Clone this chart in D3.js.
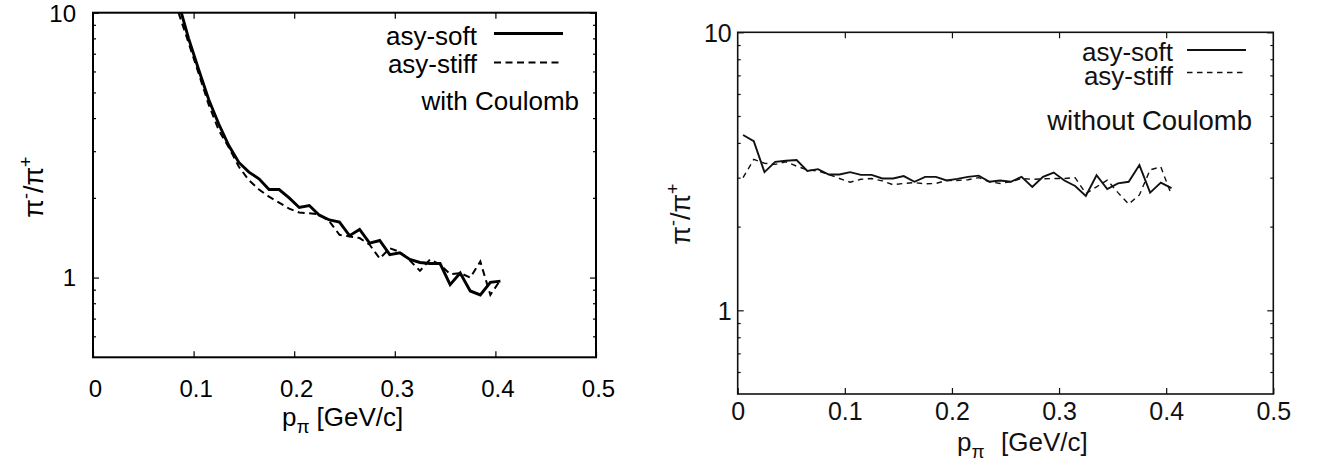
<!DOCTYPE html>
<html>
<head>
<meta charset="utf-8">
<script src="https://cdn.jsdelivr.net/npm/d3@7"></script>
<style>
  body { margin: 0; background: #fff; }
  svg { display: block; font-family: "Liberation Sans", Arial, sans-serif; }
</style>
</head>
<body>
<svg id="chart" width="1324" height="468"></svg>
<script>
// momentum grid (GeV/c) and ratios
var momentumCoul = [0.085, 0.095, 0.105, 0.115, 0.125, 0.135, 0.145, 0.155, 0.165, 0.175,
    0.185, 0.195, 0.205, 0.215, 0.225, 0.235, 0.245, 0.255, 0.265, 0.275, 0.285,
    0.295, 0.305, 0.315, 0.325, 0.335, 0.345, 0.355, 0.365, 0.375, 0.385, 0.395, 0.405];
var softCoul = [10.9, 8.0, 6.1, 4.7, 3.8, 3.15, 2.72, 2.5, 2.36, 2.15,
    2.15, 2.0, 1.84, 1.87, 1.72, 1.65, 1.62, 1.44, 1.52, 1.35, 1.38,
    1.22, 1.24, 1.17, 1.14, 1.13, 1.13, 0.94, 1.04, 0.89, 0.86, 0.96, 0.97];
var stiffCoul = [10.0, 7.7, 5.9, 4.5, 3.6, 3.1, 2.62, 2.33, 2.15, 2.02,
    1.92, 1.82, 1.76, 1.75, 1.73, 1.63, 1.45, 1.43, 1.41, 1.33, 1.18,
    1.29, 1.25, 1.16, 1.06, 1.17, 1.12, 1.03, 1.04, 1.0, 1.15, 0.86, 0.98];

var momentumNoCoul = [0.005, 0.015, 0.025, 0.035, 0.045, 0.055, 0.065, 0.075, 0.085, 0.095,
    0.105, 0.115, 0.125, 0.135, 0.145, 0.155, 0.165, 0.175, 0.185, 0.195,
    0.205, 0.215, 0.225, 0.235, 0.245, 0.255, 0.265, 0.275, 0.285, 0.295,
    0.305, 0.315, 0.325, 0.335, 0.345, 0.355, 0.365, 0.375, 0.385, 0.395, 0.405];
var softNoCoul = [4.27, 4.06, 3.14, 3.42, 3.45, 3.47, 3.17, 3.22, 3.08, 3.08,
    3.14, 3.07, 3.07, 2.98, 2.98, 3.04, 2.90, 3.02, 3.02, 2.93,
    2.97, 3.02, 3.05, 2.90, 2.93, 2.90, 3.02, 2.78, 3.02, 3.13,
    2.93, 2.80, 2.58, 3.06, 2.73, 2.86, 2.90, 3.33, 2.65, 2.88, 2.75];
var stiffNoCoul = [3.0, 3.49, 3.38, 3.35, 3.42, 3.30, 3.20, 3.17, 3.08, 2.98,
    2.89, 2.96, 2.98, 2.92, 2.83, 2.86, 2.88, 2.85, 2.86, 2.93,
    2.93, 2.95, 3.0, 2.90, 2.86, 2.90, 2.98, 2.96, 2.97, 2.98,
    2.98, 3.0, 2.63, 2.78, 2.94, 2.65, 2.41, 2.6, 3.2, 3.28, 2.6];

var xTicks = [0, 0.1, 0.2, 0.3, 0.4, 0.5];
var xTopTicks = [0.1, 0.2, 0.3, 0.4];
var yMajorTicks = [1, 10];
var yMinorTicks = [0.6, 0.7, 0.8, 0.9, 2, 3, 4, 5, 6, 7, 8, 9];
var seriesNames = ['asy-soft', 'asy-stiff'];

var svg = d3.select('#chart');

var panels = [
    {id: 'coul', left: 93, right: 596, top: 12.7, bottom: 357.3,
     px: momentumCoul, soft: softCoul, stiff: stiffCoul,
     frameW: 2, softW: 2.9, stiffW: 2, dash: '7,4.5', col: '#000',
     tickFont: 24, xLabY: 39.4, xLabDx: 2, yLabX: -17,
     note: 'with Coulomb', noteX: 579, noteY: 110, noteFont: 26,
     legTextX: 477, legY: [45, 73], legLineY: [33.5, 62.5], legLine: [494, 563], legFont: 26,
     titleX: 282, titleBrX: 316.5, titleY: 426, yTitleX: 43, yTitleY: 187},
    {id: 'nocoul', left: 737.7, right: 1273.3, top: 32.3, bottom: 394,
     px: momentumNoCoul, soft: softNoCoul, stiff: stiffNoCoul,
     frameW: 1.6, softW: 1.9, stiffW: 1.4, dash: '5.5,4.5', col: '#111',
     tickFont: 25, xLabY: 26, xLabDx: 0, yLabX: -6,
     note: 'without Coulomb', noteX: 1252, noteY: 130, noteFont: 27.5,
     legTextX: 1173, legY: [61, 84.5], legLineY: [50, 72.5], legLine: [1187, 1246], legFont: 26,
     titleX: 957, titleBrX: 1001, titleY: 451, yTitleX: 690, yTitleY: 214}
];

panels.forEach(drawPanel);

function drawPanel(p) {
    var x = d3.scaleLinear().domain([0, 0.5]).range([p.left, p.right]);
    var y = d3.scaleLog().domain([0.5, 10]).range([p.bottom, p.top]);
    var g = svg.append('g').attr('class', 'panel-' + p.id);

    g.append('clipPath').attr('id', 'clip-' + p.id)
        .append('rect')
        .attr('x', p.left).attr('y', p.top)
        .attr('width', p.right - p.left).attr('height', p.bottom - p.top);

    // ticks, all pointing inward
    function styleAxis(sel) {
        sel.select('.domain').remove();
        sel.selectAll('.tick line').attr('stroke', p.col).attr('stroke-width', 1.2);
    }
    var bottomAx = g.append('g').attr('transform', 'translate(0,' + p.bottom + ')')
        .call(d3.axisBottom(x).tickValues(xTicks).tickSize(-6).tickFormat(function (d) { return String(d); }));
    styleAxis(bottomAx);
    bottomAx.selectAll('.tick text')
        .attr('y', p.xLabY).attr('dy', 0).attr('dx', p.xLabDx)
        .attr('fill', p.col).style('font-size', p.tickFont + 'px')
        .style('font-family', '"Liberation Sans", Arial, sans-serif');

    g.append('g').attr('transform', 'translate(0,' + p.top + ')')
        .call(d3.axisTop(x).tickValues(xTopTicks).tickSize(-6).tickFormat(''))
        .call(styleAxis);

    var leftAx = g.append('g').attr('transform', 'translate(' + p.left + ',0)')
        .call(d3.axisLeft(y).tickValues(yMajorTicks).tickSize(-6).tickFormat(function (d) { return String(d); }));
    styleAxis(leftAx);
    leftAx.selectAll('.tick text')
        .attr('x', p.yLabX).attr('dy', '0.35em')
        .attr('fill', p.col).style('font-size', p.tickFont + 'px')
        .style('font-family', '"Liberation Sans", Arial, sans-serif');
    g.append('g').attr('transform', 'translate(' + p.left + ',0)')
        .call(d3.axisLeft(y).tickValues(yMinorTicks).tickSize(-3).tickFormat(''))
        .call(styleAxis);

    g.append('g').attr('transform', 'translate(' + p.right + ',0)')
        .call(d3.axisRight(y).tickValues(yMajorTicks).tickSize(-6).tickFormat(''))
        .call(styleAxis);
    g.append('g').attr('transform', 'translate(' + p.right + ',0)')
        .call(d3.axisRight(y).tickValues(yMinorTicks).tickSize(-3).tickFormat(''))
        .call(styleAxis);

    // frame
    g.append('rect')
        .attr('x', p.left).attr('y', p.top)
        .attr('width', p.right - p.left).attr('height', p.bottom - p.top)
        .attr('fill', 'none').attr('stroke', p.col).attr('stroke-width', p.frameW);

    var line = d3.line()
        .x(function (d) { return x(d[0]); })
        .y(function (d) { return y(d[1]); });

    var curves = g.append('g').attr('clip-path', 'url(#clip-' + p.id + ')');
    curves.append('path')
        .datum(d3.zip(p.px, p.stiff))
        .attr('d', line)
        .attr('fill', 'none').attr('stroke', p.col)
        .attr('stroke-width', p.stiffW).attr('stroke-dasharray', p.dash);
    curves.append('path')
        .datum(d3.zip(p.px, p.soft))
        .attr('d', line)
        .attr('fill', 'none').attr('stroke', p.col)
        .attr('stroke-width', p.softW).attr('stroke-linejoin', 'miter');

    // legend
    seriesNames.forEach(function (name, i) {
        g.append('text')
            .attr('x', p.legTextX).attr('y', p.legY[i])
            .attr('text-anchor', 'end')
            .style('font-size', p.legFont + 'px')
            .attr('fill', p.col)
            .text(name);
        g.append('line')
            .attr('x1', p.legLine[0]).attr('x2', p.legLine[1])
            .attr('y1', p.legLineY[i]).attr('y2', p.legLineY[i])
            .attr('stroke', p.col)
            .attr('stroke-width', i === 0 ? p.softW : p.stiffW)
            .attr('stroke-dasharray', i === 0 ? null : p.dash);
    });
    g.append('text')
        .attr('x', p.noteX).attr('y', p.noteY)
        .attr('text-anchor', 'end')
        .style('font-size', p.noteFont + 'px')
        .attr('fill', p.col)
        .text(p.note);

    // x axis title
    var xt = g.append('text')
        .attr('x', p.titleX).attr('y', p.titleY)
        .style('font-size', '26px').attr('fill', p.col);
    xt.append('tspan').text('p');
    xt.append('tspan').attr('dy', 7).style('font-size', '19px').text('\u03c0');
    xt.append('tspan').attr('x', p.titleBrX).attr('dy', -7).text('[GeV/c]');

    // y axis title
    var yt = g.append('text')
        .attr('transform', 'translate(' + p.yTitleX + ',' + p.yTitleY + ') rotate(-90)')
        .attr('text-anchor', 'middle')
        .style('font-size', '27px').attr('fill', p.col);
    yt.append('tspan').text('\u03c0');
    yt.append('tspan').attr('dy', -11).style('font-size', '18px').text('-');
    yt.append('tspan').attr('dy', 11).text('/\u03c0');
    yt.append('tspan').attr('dy', -11).style('font-size', '18px').text('+');
}
</script>
</body>
</html>
